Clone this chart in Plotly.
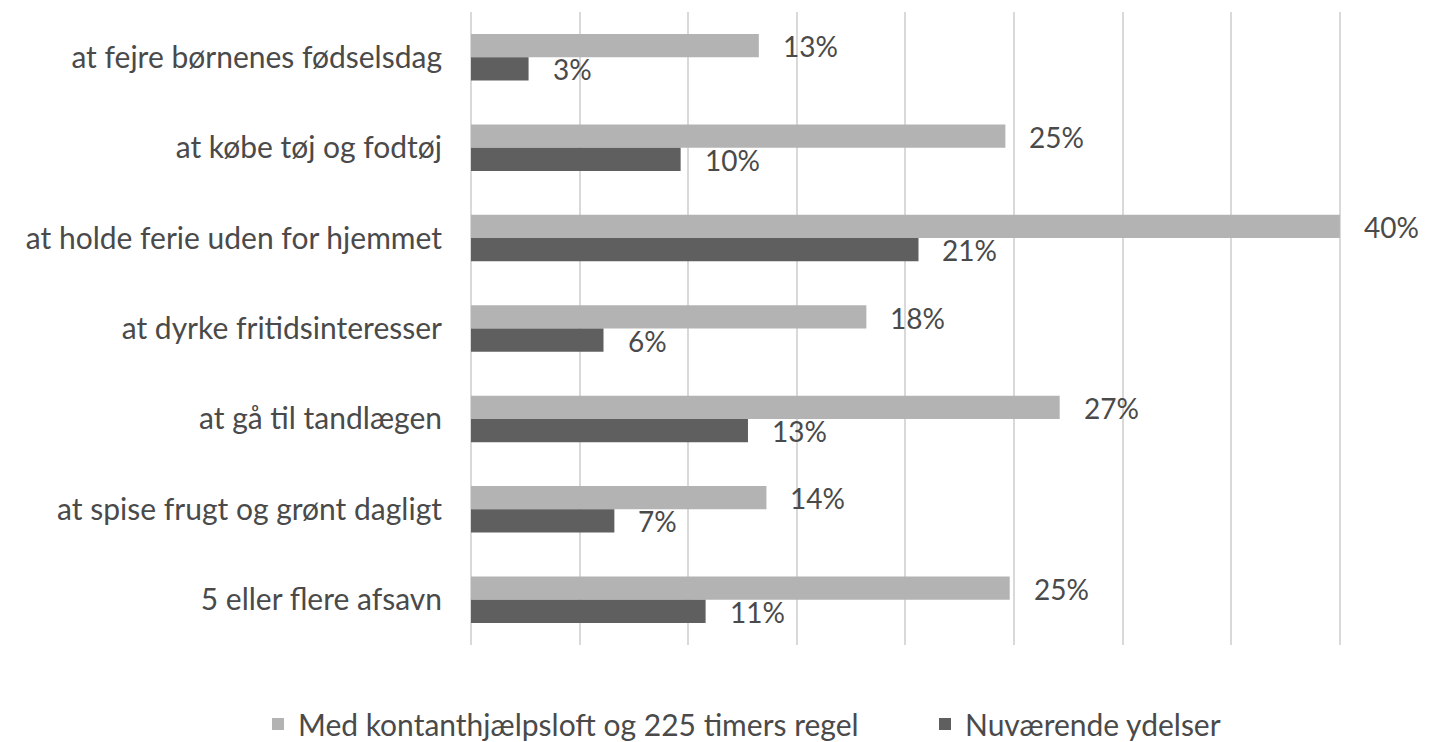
import plotly.graph_objects as go

categories = [
    "at fejre børnenes fødselsdag",
    "at købe tøj og fodtøj",
    "at holde ferie uden for hjemmet",
    "at dyrke fritidsinteresser",
    "at gå til tandlægen",
    "at spise frugt og grønt dagligt",
    "5 eller flere afsavn",
]
series_names = ["Med kontanthjælpsloft og 225 timers regel", "Nuværende ydelser"]
med_loft = [13.25, 24.6, 40.0, 18.2, 27.1, 13.6, 24.8]
nuvaerende = [2.65, 9.65, 20.6, 6.1, 12.75, 6.6, 10.8]
med_loft_labels = ["13%", "25%", "40%", "18%", "27%", "14%", "25%"]
nuvaerende_labels = ["3%", "10%", "21%", "6%", "13%", "7%", "11%"]

LIGHT = "#B3B3B3"
DARK = "#5F5F5F"
TEXT = "#4A4A4A"
FONT = "Lato"

W, H = 1446, 742
ML, MR, MT, MB = 471, 105, 12, 97
PW, PH = W - ML - MR, H - MT - MB

fig = go.Figure()
fig.add_trace(go.Bar(y=categories, x=med_loft, orientation="h", name=series_names[0],
                     marker=dict(color=LIGHT, line=dict(width=0))))
fig.add_trace(go.Bar(y=categories, x=nuvaerende, orientation="h", name=series_names[1],
                     marker=dict(color=DARK, line=dict(width=0))))

annotations = []
for cat, v, lab in zip(categories, med_loft, med_loft_labels):
    annotations.append(dict(x=v, y=cat, text=lab, xref="x", yref="y", showarrow=False,
                            xanchor="left", yanchor="middle", xshift=22, yshift=11,
                            font=dict(family=FONT, size=28, color=TEXT)))
for cat, v, lab in zip(categories, nuvaerende, nuvaerende_labels):
    annotations.append(dict(x=v, y=cat, text=lab, xref="x", yref="y", showarrow=False,
                            xanchor="left", yanchor="middle", xshift=22, yshift=-12,
                            font=dict(family=FONT, size=28, color=TEXT)))

fig.update_layout(
    width=W, height=H,
    margin=dict(l=ML, r=MR, t=MT, b=MB, autoexpand=False),
    paper_bgcolor="white", plot_bgcolor="white",
    barmode="group", bargap=0.486, bargroupgap=0,
    font=dict(family=FONT, size=30, color=TEXT),
    showlegend=True,
    legend=dict(orientation="h", xref="paper", yref="paper",
                x=(258 - ML) / PW, y=(MT + PH - 724) / PH, xanchor="left", yanchor="middle",
                font=dict(family=FONT, size=30, color=TEXT),
                traceorder="normal", itemwidth=30, entrywidth=622, entrywidthmode="pixels"),
    annotations=annotations,
)
fig.update_xaxes(range=[0, 40.05], dtick=5, tick0=0, showgrid=True, gridcolor="#D9D9D9", gridwidth=2,
                 zeroline=True, zerolinecolor="#D9D9D9", zerolinewidth=2,
                 showticklabels=False, showline=False, fixedrange=True)
fig.update_yaxes(autorange="reversed", showgrid=False, zeroline=False, showline=False,
                 ticks="", ticklabelstandoff=28, tickfont=dict(family=FONT, size=30, color=TEXT),
                 fixedrange=True)

fig.write_html("out.html", config={"displayModeBar": False},
               post_script="document.body.style.margin='0';")
